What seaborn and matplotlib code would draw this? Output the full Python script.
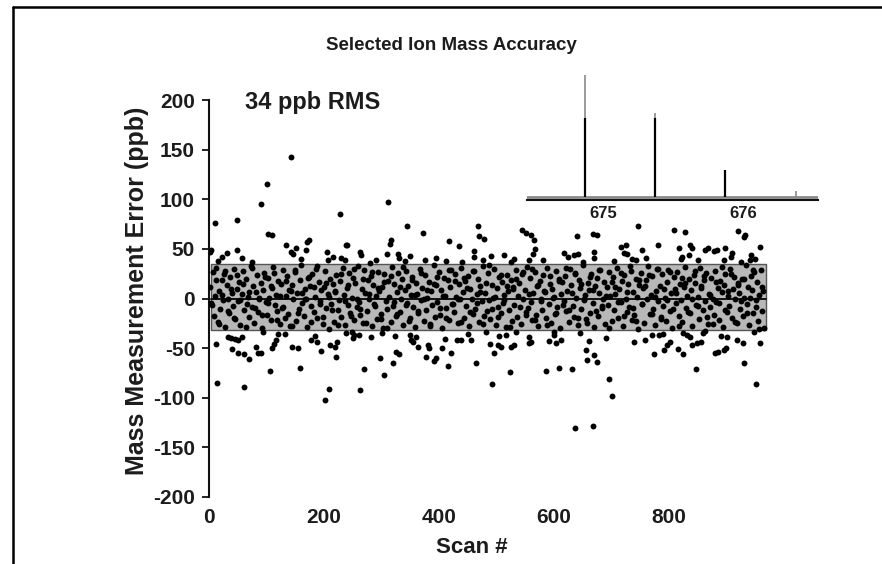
import numpy as np
import pandas as pd
import matplotlib
matplotlib.use("Agg")
import matplotlib.pyplot as plt
from matplotlib.lines import Line2D
import seaborn as sns

# ---------------- data ----------------
# in-band points (values in ppb), spread along the scan axis
band_vals = [
    12, -5, 27, -18, 3, 31, -24, 8, -11, 19, -2, 25, -29, 14, 0, -15, 22, 6, -8, 30,
    -21, 10, -3, 17, -27, 5, 28, -12, 20, -6, 2, -19, 33, -9, 13, -25, 7, 24, -14, -1,
    16, -30, 9, 26, -4, -17, 21, 1, -22, 11, 32, -7, 4, -13, 18, -26, 15, -10, 29, -20,
    3, 23, -16, -28, 8, 14, -1, 27, -23, 6, -11, 19, 34, -5, -18, 10, 0, -29, 22, 13,
    -8, 25, -14, 2, 30, -20, 17, -3, 9, -26, 12, 28, -10, 5, -31, 20, -6, 15, -24, 7,
    24, -12, -2, 18, -19, 31, 4, -27, 11, -7, 26, -15, 1, 21, -22, 16, -9, 33, -4, -17,
    10, -25, 29, 6, -13, 19, -1, 23, -28, 14, -6, 3, -21, 27, 8, -16, 12, -30, 25, -3,
    -11, 18, 2, -24, 32, -8, 15, -18, 7, 26, -14, 0, 20, -27, 9, 28, -5, 13, -20, 4,
    22, -9, -29, 16, 5, -15, 30, -2, 11, -23, 24, -12, 1, 17, -26, 8, -7, 34, -19, 14,
    -4, 27, -17, 9, -30, 21, 3, -10, 19, -22, 12, 29, -6, -14, 25, 2, -25, 15, -1, 31,
    7, -20, 18, -8, 23, -28, 10, 0, -16, 28, -11, 5, 20, -24, 13, -3, 33, -18, 6, -13,
    26, -2, -21, 14, 1, 30, -27, 11, -9, 22, -15, 17, -5, 4, -29, 24, 8, -12, 19, -23,
    12, -7, 29, -19, 3, 16, -26, 25, -1, 9, -14, 32, -10, 21, -4, -22, 6, 27, -17, 13,
    -28, 18, 0, -12, 24, 7, -20, 31, -6, 15, -25, 10, 2, -16, 28, -9, 20, -30, 5, 17,
    -3, 23, -13, 8, -24, 30, 14, -8, -19, 26, 1, -27, 19, 11, -11, 34, -2, 4, -21, 16,
    9, -15, 25, -5, -29, 13, 21, -18, 6, 29, -10, -1, 17, -26, 12, -7, 27, 3, -23, 22,
    -12, 5, 31, -20, 10, -4, 18, -28, 24, 0, -14, 15, -9, 28, -22, 7, -17, 20, 2, -31,
    14, 26, -6, 11, -25, 19, -1, 33, -16, 4, 23, -11, -27, 8, 30, -3, 13, -19, 25, -8,
    1, -23, 17, 29, -13, 6, -30, 22, 10, -5, 27, -18, 15, -2, -24, 12, 32, -10, 3, 20,
    -15, 9, -28, 24, 16, -7, 2, -21, 31, 13, -12, 19, -3, 26, -26, 5, -9, 21, 0, -17,
    28, -4, 11, -22, 18, 7, -29, 14, 25, -14, 3, -8, 30, -20, 10, 22, -1, -25, 16, 6,
    -11, 20, -18, 1, 34, -6, 12, -27, 23, 9, -15, 27, -2, 17, -23, 4, 29, -13, 8, -30,
]
band_vals2 = [
    -7, 19, -26, 4, 28, -13, 10, -20, 24, -2, 15, -29, 7, 31, -10, 1, -17, 22, -5, 13,
    26, -22, 3, -9, 18, 9, -28, 29, -15, 6, -1, 21, -24, 12, 33, -6, -19, 16, 2, -12,
    8, -27, 25, -3, 14, -18, 30, 0, -11, 20, -25, 5, 27, -8, 11, -21, 17, -30, 23, -4,
    -16, 12, 32, -7, -23, 19, 4, -13, 26, -1, 9, -28, 15, 22, -10, 3, -20, 29, -6, 18,
    0, -24, 21, 11, -14, 28, -5, 7, -26, 16, 34, -11, 2, -19, 24, -2, 13, -29, 10, 20,
    -9, 27, -17, 5, 30, -22, 14, -3, 8, -27, 23, 1, -15, 18, -7, 31, -12, 6, 25, -20,
    15, -1, -25, 22, 9, -13, 29, -8, 3, -30, 17, 12, -4, 26, -18, 7, 33, -10, -23, 19,
    -6, 13, 24, -16, 2, 30, -21, 10, -2, 27, -11, 6, -28, 21, 16, -14, 0, 28, -8, 11,
    23, -19, 4, -26, 17, -5, 32, -12, 8, 25, -24, 14, -3, 20, -15, 1, 29, -9, -31, 12,
]
band_scans = np.linspace(2, 966, len(band_vals))
band_scans2 = np.linspace(6, 962, len(band_vals2))

up_scan = [2, 4, 10, 22, 31, 48, 48, 91, 101, 103,
           110, 134, 143, 143, 146, 152, 168, 170, 174, 205,
           207, 228, 230, 236, 239, 240, 262, 265, 291, 309,
           312, 315, 317, 328, 331, 345, 350, 373, 375, 412,
           418, 434, 461, 461, 468, 469, 476, 479, 513, 525,
           544, 551, 557, 560, 563, 565, 567, 617, 635, 640,
           641, 667, 670, 670, 674, 716, 722, 725, 727, 736,
           742, 746, 753, 781, 809, 817, 820, 823, 827, 834,
           837, 840, 863, 868, 878, 883, 895, 898, 907, 909,
           920, 931, 933, 941, 943, 959]
up_val = [47, 49, 76, 42, 46, 79, 49, 95, 115, 65,
          64, 54, 143, 47, 45, 51, 49, 57, 59, 47,
          39, 85, 41, 39, 54, 54, 47, 44, 39, 45,
          97, 55, 59, 45, 41, 73, 43, 66, 39, 38,
          58, 53, 48, 42, 73, 63, 39, 60, 44, 37,
          69, 66, 39, 64, 45, 59, 50, 46, 44, 63,
          45, 65, 47, 41, 64, 52, 46, 54, 45, 40,
          39, 73, 49, 54, 69, 51, 40, 42, 67, 44,
          54, 51, 49, 51, 48, 49, 39, 51, 42, 46,
          68, 62, 64, 39, 44, 52]

lo_scan = [12, 14, 33, 39, 40, 45, 51, 51, 58, 60,
           60, 70, 82, 86, 90, 94, 106, 109, 113, 116,
           132, 145, 155, 159, 177, 187, 194, 201, 209, 211,
           219, 220, 223, 239, 249, 252, 261, 263, 269, 282,
           297, 304, 320, 323, 326, 331, 349, 352, 354, 363,
           378, 380, 383, 392, 395, 406, 410, 415, 421, 432,
           438, 456, 464, 482, 489, 493, 496, 502, 508, 516,
           523, 525, 531, 534, 557, 560, 557, 586, 591, 600,
           604, 609, 612, 632, 636, 646, 655, 658, 661, 668,
           670, 675, 696, 701, 739, 758, 770, 774, 782, 791,
           797, 801, 816, 824, 824, 831, 837, 840, 847, 849,
           856, 859, 863, 880, 886, 895, 899, 901, 918, 928,
           930, 947, 952, 959]
lo_val = [-46, -85, -39, -40, -51, -41, -42, -55, -39, -56,
          -89, -61, -49, -55, -55, -34, -73, -50, -46, -42,
          -36, -49, -50, -70, -42, -44, -53, -102, -91, -47,
          -49, -59, -44, -35, -34, -37, -37, -92, -71, -39,
          -60, -77, -65, -38, -54, -56, -37, -42, -44, -49,
          -59, -47, -50, -63, -60, -50, -41, -68, -55, -42,
          -42, -42, -65, -34, -46, -86, -55, -47, -49, -37,
          -74, -49, -47, -34, -39, -44, -45, -73, -43, -34,
          -45, -70, -42, -71, -130, -35, -52, -62, -43, -128,
          -57, -64, -81, -98, -44, -42, -37, -56, -37, -52,
          -47, -44, -51, -56, -35, -37, -39, -47, -71, -45,
          -44, -35, -33, -55, -54, -52, -50, -39, -42, -45,
          -65, -34, -86, -45]

edge_scan = [15, 58, 75, 120, 160, 185, 215, 250, 280, 300,
             340, 360, 395, 440, 450, 490, 505, 530, 580, 600,
             625, 650, 690, 705, 760, 790, 850, 890, 925, 950]
edge_val = [38, 41, 37, -36, 40, -38, 42, -40, 36, -35,
            38, -39, 41, 37, -36, 43, -38, 40, 39, -37,
            42, 37, -40, 38, 41, -36, 39, -38, 37, 40]

band_extent = [3, 968]      # scan range covered by the RMS band
band_low, band_high = -32, 35

x_ticks = [0, 200, 400, 600, 800]
y_ticks = [-200, -150, -100, -50, 0, 50, 100, 150, 200]

# inset spectrum (m/z, relative intensity)
meas_mz = [674.871, 675.371, 675.871]
meas_int = [64.5, 64.5, 22.0]
theo_mz = [674.868, 674.873, 675.368, 675.374, 676.379]
theo_int = [19.4, 100.0, 5.7, 68.6, 5.0]
inset_ticks = [674.5, 675.0, 675.5, 676.0, 676.5]
inset_labels = ["", "675", "", "676", ""]

# ---------------- style ----------------
sns.set_style("white")
plt.rcParams["font.family"] = ["Liberation Sans", "DejaVu Sans"]
plt.rcParams["font.weight"] = "bold"
txt = "#1c1c1c"

df = pd.DataFrame({
    "scan": np.concatenate([band_scans, band_scans2, up_scan, lo_scan, edge_scan]),
    "err": np.concatenate([band_vals, band_vals2, up_val, lo_val, edge_val]).astype(float),
})

fig = plt.figure(figsize=(8.82, 5.64), dpi=100)
ax = fig.add_axes([209 / 882, 67 / 564, 575 / 882, 397 / 564])

# band
ax.fill_between(band_extent, band_low, band_high, facecolor="#b8b8b8",
                edgecolor="#555555", linewidth=1.0, zorder=1)
ax.plot(band_extent, [0, 0], color="#111111", lw=1.4, zorder=2)

sns.scatterplot(data=df, x="scan", y="err", ax=ax, color="black", s=18,
                linewidth=0, zorder=3, legend=False)

ax.set_xlim(0, 1000)
ax.set_ylim(-200, 200)
ax.set_xticks(x_ticks)
ax.set_xticklabels([str(t) for t in x_ticks])
ax.set_yticks(y_ticks)
ax.set_yticklabels([str(t) for t in y_ticks])
for s in ["top", "right", "bottom"]:
    ax.spines[s].set_visible(False)
ax.spines["left"].set_linewidth(1.5)
ax.spines["left"].set_color("#111111")
ax.tick_params(axis="y", direction="out", length=5, width=1.3, pad=5,
               labelsize=15, colors="#111111", labelcolor=txt, left=True)
ax.tick_params(axis="x", length=0, pad=8, labelsize=15, labelcolor=txt)
for lab in ax.get_xticklabels() + ax.get_yticklabels():
    lab.set_fontweight("bold")
ax.set_facecolor("none")

ax.set_xlabel("Scan #", fontsize=16, fontweight="bold", color=txt)
ax.xaxis.set_label_coords(0.4565, -0.100)
ax.set_ylabel("Mass Measurement Error (ppb)", fontsize=18, fontweight="bold", color=txt)
ax.yaxis.set_label_coords(-0.104, 0.519)

fig.text(451 / 882, 1 - 46 / 564, "Selected Ion Mass Accuracy", ha="center",
         va="center", fontsize=13.5, fontweight="bold", color=txt)
fig.text(245 / 882, 1 - 102 / 564, "34 ppb RMS", ha="left", va="center",
         fontsize=17, fontweight="bold", color=txt)

# inset
ins = fig.add_axes([527 / 882, 1 - 200 / 564, 291 / 882, 140 / 564])
ins.set_facecolor("none")
ins.set_xlim(674.457, 676.536)
ins.set_ylim(-2.5, 112.3)
ins.axhline(0, color="#8a8a8a", lw=2.0, zorder=1)
ins.vlines(theo_mz, 0, theo_int, color="#8a8a8a", lw=1.2, zorder=2)
ins.vlines(meas_mz, 0, meas_int, color="black", lw=1.6, zorder=3)
for s in ["top", "right", "left"]:
    ins.spines[s].set_visible(False)
ins.spines["bottom"].set_linewidth(1.5)
ins.spines["bottom"].set_color("#111111")
ins.set_yticks([])
ins.set_xticks(inset_ticks)
ins.set_xticklabels(inset_labels)
ins.tick_params(axis="x", direction="out", length=2.5, width=1.2, pad=2,
                labelsize=12, labelcolor=txt)
for lab in ins.get_xticklabels():
    lab.set_fontweight("bold")

# outer frame (left and top)
fig.add_artist(Line2D([12.8 / 882, 12.8 / 882], [0, 1 - 7 / 564],
                      transform=fig.transFigure, color="black", lw=1.8))
fig.add_artist(Line2D([12.8 / 882, 1], [1 - 7 / 564, 1 - 7 / 564],
                      transform=fig.transFigure, color="black", lw=1.8))

fig.savefig("out.png", dpi=100)
